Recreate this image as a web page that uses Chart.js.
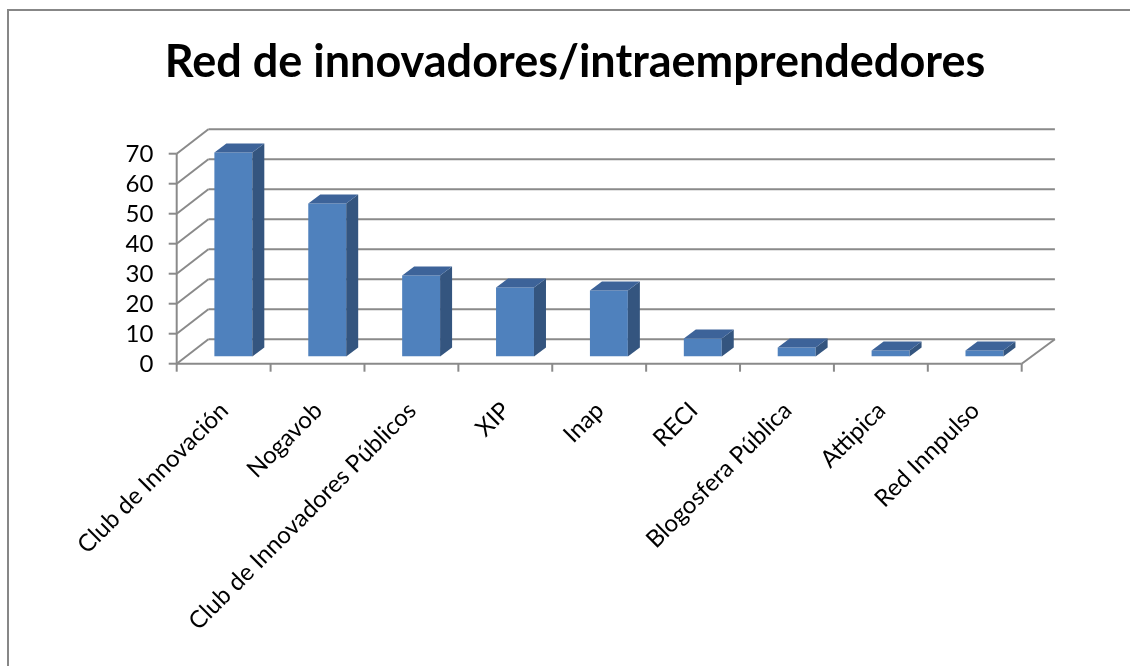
<!DOCTYPE html>
<html>
<head>
<meta charset="utf-8">
<script src="https://cdn.jsdelivr.net/npm/chart.js@4"></script>
<style>
  html, body { margin: 0; padding: 0; background: #fff; }
  #wrap { width: 1130px; height: 666px; }
</style>
</head>
<body>
<div id="wrap"><canvas id="redChart"></canvas></div>
<script>
// datos del gráfico
const categorias = ['Club de Innovación', 'Nogavob', 'Club de Innovadores Públicos', 'XIP', 'Inap', 'RECI', 'Blogosfera Pública', 'Attipica', 'Red Innpulso'];
const valores = [68, 51, 27, 23, 22, 6, 3, 2, 2];
const yTicks = [0, 10, 20, 30, 40, 50, 60, 70];
const titulo = 'Red de innovadores/intraemprendedores';

const lineColor = '#8a8a8a';
const frontOff = { x: -9.7, y: 7.3 };   // plano frontal respecto al plano de barras
const backOff = { x: 22, y: -17.1 };    // pared del fondo
const depth = { x: 12, y: -9 };         // profundidad de cada barra

function line(ctx, x1, y1, x2, y2) {
    ctx.beginPath();
    ctx.moveTo(x1, y1);
    ctx.lineTo(x2, y2);
    ctx.stroke();
}

// dibuja paredes, ejes y caras 3D
const plano3d = {
    id: 'plano3d',
    beforeDraw(chart) {
        const ctx = chart.ctx;
        ctx.save();
        ctx.strokeStyle = '#878787';
        ctx.lineWidth = 2;
        ctx.strokeRect(8, 10, 2000, 2000);
        ctx.restore();
    },
    beforeDatasetsDraw(chart) {
        const ctx = chart.ctx;
        const { left, right } = chart.chartArea;
        const y = chart.scales.y;
        ctx.save();
        ctx.strokeStyle = lineColor;
        ctx.lineWidth = 2;
        yTicks.forEach(v => {
            const py = y.getPixelForValue(v);
            // línea del fondo
            line(ctx, left + backOff.x, py + backOff.y, right + backOff.x + 1.5, py + backOff.y);
            // diagonal pared izquierda
            line(ctx, left + frontOff.x, py + frontOff.y, left + backOff.x, py + backOff.y);
            // marca del eje
            line(ctx, left + frontOff.x - 8, py + frontOff.y, left + frontOff.x, py + frontOff.y);
        });
        const y0 = y.getPixelForValue(0);
        const y70 = y.getPixelForValue(70);
        // eje vertical frontal
        line(ctx, left + frontOff.x, y70 + frontOff.y, left + frontOff.x, y0 + frontOff.y);
        // eje horizontal frontal
        line(ctx, left + frontOff.x, y0 + frontOff.y, right + frontOff.x, y0 + frontOff.y);
        // diagonal suelo derecha
        line(ctx, right + frontOff.x, y0 + frontOff.y, right + backOff.x + 1.5, y0 + backOff.y);
        // marcas de categoría
        const step = (right - left) / categorias.length;
        for (let i = 0; i <= categorias.length; i++) {
            const px = left + frontOff.x + step * i;
            line(ctx, px, y0 + frontOff.y, px, y0 + frontOff.y + 8);
        }
        ctx.restore();
    },
    afterDatasetsDraw(chart) {
        const ctx = chart.ctx;
        const meta = chart.getDatasetMeta(0);
        ctx.save();
        meta.data.forEach(bar => {
            const p = bar.getProps(['x', 'y', 'base', 'width'], true);
            const l = p.x - p.width / 2;
            const r = p.x + p.width / 2;
            // cara lateral
            ctx.fillStyle = '#34557f';
            ctx.beginPath();
            ctx.moveTo(r, p.y);
            ctx.lineTo(r + depth.x, p.y + depth.y);
            ctx.lineTo(r + depth.x, p.base + depth.y);
            ctx.lineTo(r, p.base);
            ctx.closePath();
            ctx.fill();
            // cara superior
            ctx.fillStyle = '#3d6399';
            ctx.beginPath();
            ctx.moveTo(l, p.y);
            ctx.lineTo(l + depth.x, p.y + depth.y);
            ctx.lineTo(r + depth.x, p.y + depth.y);
            ctx.lineTo(r, p.y);
            ctx.closePath();
            ctx.fill();
        });
        ctx.restore();
    }
};

new Chart(document.getElementById('redChart'), {
    type: 'bar',
    data: {
        labels: categorias,
        datasets: [{
            data: valores,
            backgroundColor: '#4f81bd',
            borderWidth: 0,
            barPercentage: 0.404,
            categoryPercentage: 1
        }]
    },
    options: {
        responsive: true,
        maintainAspectRatio: false,
        animation: false,
        layout: {
            padding: { left: 20, right: 0, top: 0, bottom: 0 }
        },
        scales: {
            x: {
                grid: { display: false, drawTicks: false },
                border: { display: false },
                afterFit(scale) { scale.height = 666 - 356.4; },
                ticks: {
                    color: '#000',
                    autoSkip: false,
                    minRotation: 45,
                    maxRotation: 45,
                    padding: 40,
                    labelOffset: -9,
                    font: { family: 'Lato', size: 24 }
                }
            },
            y: {
                min: 0,
                max: 70,
                grid: { display: false, drawTicks: false },
                border: { display: false },
                afterFit(scale) { scale.width = 186.4 - 20; },
                ticks: {
                    stepSize: 10,
                    autoSkip: false,
                    color: '#000',
                    padding: 33,
                    labelOffset: 8,
                    font: { family: 'Lato', size: 24 }
                }
            },
            // eje vacío para reservar el margen derecho
            y2: {
                position: 'right',
                min: 0,
                max: 70,
                grid: { display: false, drawTicks: false },
                border: { display: false },
                ticks: { display: false },
                afterFit(scale) { scale.width = 98.6; }
            }
        },
        plugins: {
            legend: { display: false },
            tooltip: { enabled: false },
            title: {
                display: true,
                text: titulo,
                color: '#000',
                font: { family: 'Lato', size: 45, weight: 'bold', lineHeight: 1.2 },
                padding: { top: 35, bottom: 57.4 }
            }
        }
    },
    plugins: [plano3d]
});
</script>
</body>
</html>
